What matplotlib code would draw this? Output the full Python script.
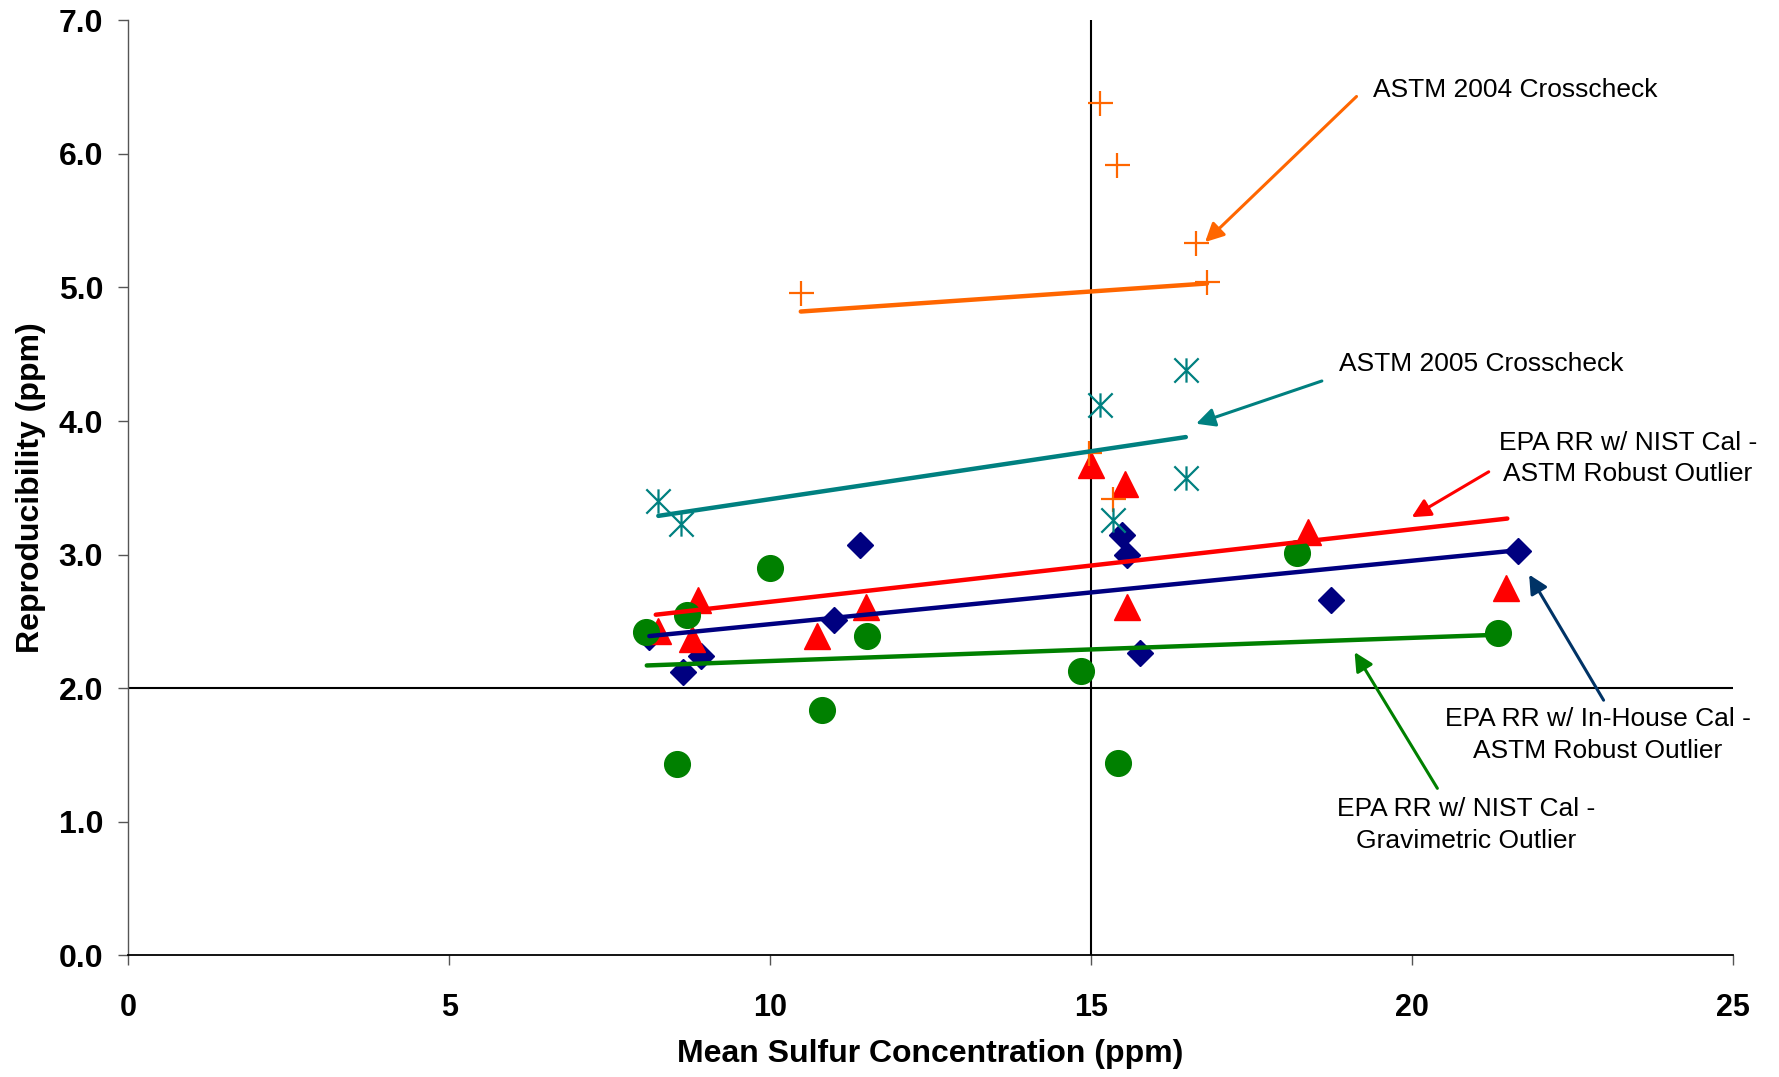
"""Reproducibility vs mean sulfur concentration scatter with trend lines."""
import matplotlib
matplotlib.use("Agg")
import matplotlib.pyplot as plt
from matplotlib.path import Path

# ASTM 2004 crosscheck (orange plus)
astm04_x = [10.48, 15.15, 15.40, 16.64, 16.81, 14.97, 15.35]
astm04_y = [4.96, 6.38, 5.92, 5.33, 5.04, 3.76, 3.42]
astm04_trend_x = [10.48, 16.81]
astm04_trend_y = [4.82, 5.03]

# ASTM 2005 crosscheck (teal asterisk)
astm05_x = [8.26, 8.62, 15.14, 16.48, 16.48, 15.35]
astm05_y = [3.40, 3.23, 4.12, 4.38, 3.57, 3.26]
astm05_trend_x = [8.26, 16.48]
astm05_trend_y = [3.29, 3.88]

# EPA RR w/ NIST Cal - ASTM Robust Outlier (red triangle)
nist_astm_x = [8.25, 8.88, 8.78, 10.73, 11.50, 15.00, 15.53, 15.56, 18.39, 21.47]
nist_astm_y = [2.43, 2.66, 2.37, 2.39, 2.61, 3.67, 3.53, 2.61, 3.17, 2.75]
nist_astm_trend_x = [8.22, 21.49]
nist_astm_trend_y = [2.55, 3.27]

# EPA RR w/ In-House Cal - ASTM Robust Outlier (navy diamond)
inhouse_x = [8.12, 8.64, 8.92, 11.00, 11.40, 15.48, 15.56, 15.76, 18.74, 21.66]
inhouse_y = [2.38, 2.12, 2.24, 2.51, 3.07, 3.15, 3.00, 2.26, 2.66, 3.03]
inhouse_trend_x = [8.12, 21.60]
inhouse_trend_y = [2.39, 3.03]

# EPA RR w/ NIST Cal - Gravimetric Outlier (green circle)
grav_x = [8.07, 8.71, 10.00, 11.51, 10.81, 8.55, 14.84, 15.42, 18.21, 21.34]
grav_y = [2.42, 2.55, 2.90, 2.39, 1.84, 1.43, 2.13, 1.44, 3.01, 2.41]
grav_trend_x = [8.08, 21.34]
grav_trend_y = [2.17, 2.40]

x_ticks = [0, 5, 10, 15, 20, 25]
y_ticks = [0, 1, 2, 3, 4, 5, 6, 7]

ORANGE = "#FF6600"
TEAL = "#008080"
RED = "#FF0000"
NAVY = "#000080"
GREEN = "#008000"

plt.rcParams["font.family"] = ["Liberation Sans", "DejaVu Sans"]

# Excel-style asterisk: an X with a vertical bar
asterisk = Path(
    [(-0.5, -0.5), (0.5, 0.5), (-0.5, 0.5), (0.5, -0.5), (0, -0.5), (0, 0.5)],
    [Path.MOVETO, Path.LINETO, Path.MOVETO, Path.LINETO, Path.MOVETO, Path.LINETO],
)

fig = plt.figure(figsize=(17.79, 10.77), dpi=100)
ax = fig.add_axes([0.0721, 0.1130, 0.9018, 0.8681])

ax.axvline(15, color="black", lw=1.5, zorder=1)
ax.axhline(2, color="black", lw=1.5, zorder=1)

ax.plot(inhouse_x, inhouse_y, ls="none", marker="D", ms=13.5, color=NAVY, zorder=3)
ax.plot(nist_astm_x, nist_astm_y, ls="none", marker="^", ms=19, color=RED, zorder=3)
ax.plot(grav_x, grav_y, ls="none", marker="o", ms=18.5, color=GREEN, zorder=3)
ax.plot(astm04_x, astm04_y, ls="none", marker="+", ms=18, mew=1.6, color=ORANGE, zorder=3)
ax.plot(astm05_x, astm05_y, ls="none", marker=asterisk, ms=17.5, mew=1.6,
        color=TEAL, fillstyle="none", zorder=3)

for tx, ty, c in [
    (astm04_trend_x, astm04_trend_y, ORANGE),
    (astm05_trend_x, astm05_trend_y, TEAL),
    (nist_astm_trend_x, nist_astm_trend_y, RED),
    (inhouse_trend_x, inhouse_trend_y, NAVY),
    (grav_trend_x, grav_trend_y, GREEN),
]:
    ax.plot(tx, ty, color=c, lw=3.2, solid_capstyle="round", zorder=4)

# callouts: (text, text xy, arrow tail, arrow head, colour, alignment)
callouts = [
    ("ASTM 2004 Crosscheck", (19.39, 6.48), (19.14, 6.43), (16.78, 5.34), ORANGE, "left"),
    ("ASTM 2005 Crosscheck", (18.86, 4.43), (18.60, 4.30), (16.64, 3.98), TEAL, "left"),
    ("EPA RR w/ NIST Cal -\nASTM Robust Outlier", (23.37, 3.72), (21.20, 3.62), (20.00, 3.28), RED, "center"),
    ("EPA RR w/ In-House Cal -\nASTM Robust Outlier", (22.90, 1.65), (22.99, 1.91), (21.83, 2.85), "#003366", "center"),
    ("EPA RR w/ NIST Cal -\nGravimetric Outlier", (20.85, 0.975), (20.40, 1.25), (19.11, 2.27), GREEN, "center"),
]
for text, txy, tail, head, c, ha in callouts:
    ax.text(txy[0], txy[1], text, ha=ha, va="center", fontsize=19,
            linespacing=1.4, multialignment="center", zorder=5)
    ax.annotate("", xy=head, xytext=tail,
                arrowprops=dict(arrowstyle="-|>", color=c, lw=2.2, mutation_scale=28,
                                shrinkA=0, shrinkB=0), zorder=5)

ax.set_xlim(0, 25)
ax.set_ylim(0, 7)
ax.set_xticks(x_ticks)
ax.set_yticks(y_ticks)
ax.set_yticklabels([f"{v:.1f}" for v in y_ticks])
ax.tick_params(axis="both", direction="out", length=7, width=1, color="#555555")
ax.tick_params(axis="x", pad=20, labelsize=22)
ax.tick_params(axis="y", pad=11, labelsize=23)
for lab in ax.get_xticklabels() + ax.get_yticklabels():
    lab.set_fontweight("bold")

for side in ("top", "right"):
    ax.spines[side].set_visible(False)
ax.spines["left"].set_color("#555555")
ax.spines["bottom"].set_color("black")
ax.spines["bottom"].set_linewidth(1.3)
ax.spines["left"].set_linewidth(1.0)

ax.set_xlabel("Mean Sulfur Concentration (ppm)", fontsize=23, fontweight="bold", labelpad=12)
ax.set_ylabel("Reproducibility (ppm)", fontsize=23, fontweight="bold", labelpad=9)

fig.savefig("out.png", dpi=100)
